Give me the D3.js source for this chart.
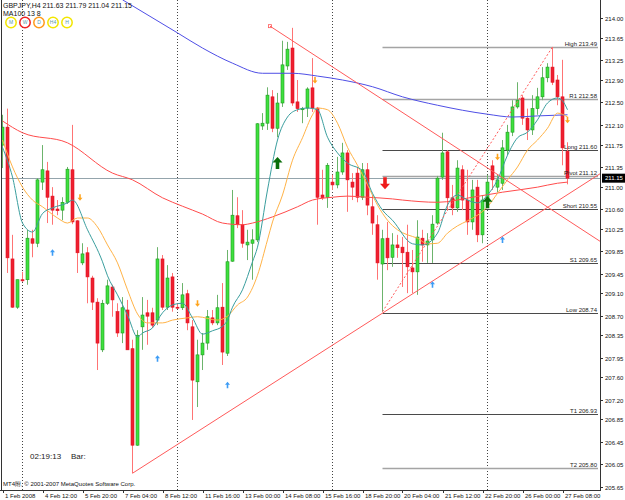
<!DOCTYPE html>
<html>
<head>
<meta charset="utf-8">
<script src="https://cdn.jsdelivr.net/npm/d3@7"></script>
<style>
  body { margin: 0; background: #fff; }
  svg { display: block; }
  text { font-family: "Liberation Sans", Arial, sans-serif; }
</style>
</head>
<body>
<div id="chart"></div>
<script>
// GBPJPY H4 candles, bar 0 = 1 Feb 2008, 5px per bar
var opens = [211.74, 212.06, 209.71, 208.85, 209.34, 209.34, 210.07, 209.99, 211.08, 211.28,
  210.83, 210.60, 210.58, 210.72, 211.30, 210.39, 209.64, 209.82, 209.37, 208.94,
  208.09, 208.92, 209.21, 208.77, 208.39, 208.80, 208.11, 206.39, 208.50, 208.75,
  208.75, 208.62, 209.71, 208.85, 209.39, 208.85, 208.84, 209.09, 208.50, 207.52,
  208.00, 208.21, 208.66, 208.57, 208.85, 208.03, 209.67, 210.48, 210.32, 209.96,
  209.99, 210.05, 212.08, 212.13, 212.60, 212.04, 212.49, 213.15, 213.47, 212.51,
  212.37, 212.40, 212.76, 212.40, 210.85, 210.81, 211.08, 211.03, 211.26, 211.60,
  211.08, 211.24, 210.81, 211.30, 210.64, 210.32, 209.62, 210.08, 209.74, 209.96,
  209.92, 209.83, 209.55, 209.48, 210.08, 209.96, 210.05, 210.35, 211.17, 211.62,
  210.80, 210.62, 211.30, 210.76, 210.37, 210.99, 210.14, 210.76, 211.37, 210.99,
  211.06, 211.65, 211.97, 212.42, 212.58, 212.22, 212.01, 212.39, 212.60, 212.94,
  213.13, 212.90, 212.60, 211.63]
var highs = [212.28, 212.39, 210.14, 209.34, 209.48, 210.23, 210.23, 211.15, 211.74, 211.44,
  210.99, 210.76, 210.81, 211.35, 212.10, 210.40, 209.99, 209.92, 209.41, 209.01,
  208.98, 209.34, 209.25, 208.92, 209.03, 208.98, 208.27, 208.44, 209.03, 208.98,
  208.84, 209.92, 209.78, 209.60, 209.46, 208.92, 209.28, 209.16, 208.62, 208.27,
  208.39, 208.80, 208.80, 209.07, 209.28, 209.87, 210.94, 210.81, 210.58, 210.23,
  210.24, 212.13, 212.31, 212.77, 212.72, 212.67, 213.60, 213.58, 213.83, 212.90,
  212.42, 212.77, 213.29, 212.42, 211.30, 211.42, 211.21, 211.53, 211.78, 211.65,
  211.24, 211.35, 211.42, 211.42, 210.85, 210.49, 210.23, 210.37, 210.17, 210.14,
  210.10, 210.32, 209.87, 210.40, 210.23, 210.17, 210.49, 211.19, 211.96, 211.65,
  211.03, 211.47, 211.38, 211.30, 211.12, 211.12, 210.85, 211.21, 211.47, 211.21,
  211.83, 212.10, 212.54, 212.86, 212.63, 212.39, 212.63, 212.76, 213.13, 213.20,
  213.49, 212.99, 213.26, 211.79]
var lows = [211.33, 209.46, 208.84, 208.82, 209.30, 209.25, 209.74, 209.92, 210.94, 210.35,
  210.32, 210.49, 210.40, 210.69, 210.33, 209.46, 209.60, 208.92, 208.80, 207.73,
  208.05, 208.89, 208.68, 208.32, 208.21, 208.09, 205.89, 206.38, 208.09, 208.18,
  208.48, 208.53, 208.80, 208.80, 208.77, 208.82, 208.80, 208.44, 206.84, 207.07,
  207.73, 208.09, 208.53, 208.53, 207.82, 207.98, 209.66, 210.26, 209.91, 209.69,
  209.34, 210.01, 212.01, 212.01, 211.97, 211.88, 212.42, 213.08, 212.44, 212.33,
  212.13, 212.24, 212.33, 210.32, 210.76, 210.62, 210.94, 210.97, 211.21, 210.55,
  210.76, 210.72, 210.76, 210.49, 210.14, 209.34, 208.77, 209.51, 209.57, 209.73,
  209.21, 209.10, 209.10, 209.07, 209.66, 209.64, 209.64, 210.32, 211.12, 210.58,
  210.49, 210.55, 210.58, 210.14, 210.23, 210.01, 209.99, 210.67, 210.94, 210.90,
  210.94, 211.56, 211.90, 212.39, 212.10, 211.83, 211.92, 212.28, 212.54, 212.86,
  212.81, 212.45, 211.38, 211.04]
var closes = [212.06, 209.73, 208.85, 209.34, 209.32, 210.08, 209.99, 211.12, 211.30, 210.81,
  210.58, 210.57, 210.72, 211.31, 210.37, 209.82, 209.80, 209.39, 208.94, 208.21,
  208.92, 209.23, 208.98, 208.39, 208.84, 208.09, 206.39, 208.35, 208.71, 208.69,
  208.53, 209.71, 208.85, 209.37, 208.85, 208.84, 209.07, 208.57, 207.55, 208.00,
  208.21, 208.68, 208.57, 208.84, 208.05, 209.66, 210.49, 210.32, 209.99, 210.01,
  210.05, 212.12, 212.13, 212.63, 212.04, 212.49, 213.17, 213.45, 212.49, 212.39,
  212.39, 212.74, 212.40, 210.81, 210.80, 211.38, 211.03, 211.26, 211.60, 211.12,
  210.99, 210.81, 211.30, 210.67, 210.35, 209.64, 210.07, 209.73, 209.96, 209.91,
  209.82, 209.57, 209.48, 210.10, 209.96, 210.03, 210.33, 211.15, 211.60, 210.80,
  210.62, 211.33, 210.76, 210.37, 210.94, 210.14, 210.76, 211.08, 211.12, 211.12,
  211.69, 211.97, 212.42, 212.54, 212.22, 212.01, 212.39, 212.60, 212.94, 213.13,
  212.86, 212.60, 211.69, 211.15]

// moving averages: [bar, price]
var maBlue = [[24, 214.33], [35, 213.74], [40, 213.47], [46, 213.20], [52, 213.02], [58, 213.02],
  [63, 212.97], [68, 212.90], [74, 212.78], [80, 212.60], [87, 212.45], [97, 212.29],
  [102, 212.24], [107, 212.26], [113, 212.28]]
var maRed = [[0, 212.17], [4, 211.96], [13, 211.78], [22, 211.24], [26, 211.12], [32, 210.80],
  [36, 210.65], [40, 210.51], [44, 210.35], [48, 210.32], [50, 210.35], [54, 210.46],
  [59, 210.64], [62, 210.76], [66, 210.81], [69, 210.83], [73, 210.81], [78, 210.78],
  [80, 210.76], [87, 210.72], [94, 210.81], [100, 210.90], [107, 210.99], [111, 211.06], [113, 211.08]]
var maTeal = [[0, 211.70], [2, 211.17], [4, 210.35], [6, 210.19], [8, 210.52], [10, 210.62],
  [13, 210.71], [14, 210.76], [17, 210.23], [20, 209.66], [21, 209.41], [23, 209.07],
  [25, 208.71], [27, 208.32], [28, 208.39], [30, 208.48], [32, 208.75], [34, 208.89],
  [36, 208.92], [38, 208.66], [40, 208.37], [42, 208.43], [44, 208.51], [45, 208.62],
  [46, 208.85], [48, 209.16], [50, 209.66], [51, 209.92], [53, 210.94], [55, 211.83],
  [57, 212.24], [59, 212.37], [61, 212.40], [63, 212.37], [65, 211.88], [67, 211.60],
  [69, 211.42], [72, 211.28], [74, 210.88], [76, 210.58], [78, 210.40], [82, 209.98],
  [84, 209.96], [87, 210.17], [89, 210.67], [91, 210.85], [93, 210.76], [95, 210.71],
  [97, 210.85], [99, 211.12], [101, 211.56], [103, 211.87], [105, 211.97], [107, 212.19],
  [109, 212.49], [111, 212.58], [112, 212.53], [113, 212.37]]
var maOrange = [[0, 211.83], [2, 211.35], [4, 210.99], [6, 210.76], [8, 210.64], [11, 210.44],
  [13, 210.35], [15, 210.44], [17, 210.44], [19, 210.28], [21, 209.96], [23, 209.64],
  [25, 209.16], [27, 208.73], [29, 208.57], [32, 208.57], [34, 208.62], [37, 208.66],
  [39, 208.68], [43, 208.62], [45, 208.69], [47, 208.89], [49, 209.03], [51, 209.42],
  [53, 210.05], [54, 210.37], [56, 210.85], [58, 211.47], [60, 211.87], [62, 212.28],
  [63, 212.40], [65, 212.37], [67, 212.13], [69, 211.70], [71, 211.38], [73, 211.03],
  [75, 210.67], [77, 210.40], [79, 210.23], [81, 210.14], [83, 210.08], [85, 209.98],
  [87, 209.99], [89, 210.17], [91, 210.30], [93, 210.39], [95, 210.49], [97, 210.64],
  [99, 210.88], [101, 211.12], [103, 211.35], [105, 211.65], [107, 211.83], [109, 212.04],
  [111, 212.31], [113, 212.24]]

// signal arrows [bar, price]
var arrowsOrangeDown = [[15.5, 210.81], [39, 208.92], [62.5, 212.90], [99, 211.53], [113, 212.19]]
var arrowsBlueUp = [[10, 209.82], [31, 207.93], [45, 207.46], [86, 209.25], [100, 210.05]]
var arrowsBigUp = [[55, 211.42], [97, 210.72]]
var arrowsBigDown = [[76.5, 211.06]]

// drawn objects
var trendUp = [[26, 205.89], [105, 210.40]]
var trendDown = [[53.5, 213.86], [111.5, 210.49]]
var trendDotted = [[76, 208.77], [110, 213.49]]

var levelNames = ["High", "R1", "Long", "Pivot", "Short", "S1", "Low", "T1", "T2"]
var levelTexts = ["213.49", "212.58", "211.60", "211.12", "210.55", "209.65", "208.74", "206.93", "205.80"]
var levelPrices = [213.48, 212.56, 211.66, 211.19, 210.60, 209.64, 208.75, 206.95, 205.99]
var levelStartBar = 76

var priceTicks = [214.00, 213.65, 213.25, 212.90, 212.50, 212.10, 211.75, 211.35, 211.00, 210.60,
  210.25, 209.85, 209.45, 209.10, 208.70, 208.35, 207.95, 207.60, 207.20, 206.85, 206.45, 206.05, 205.65]
var timeTickBars = [0, 8, 16, 24, 32, 40, 48, 56, 64, 72, 80, 88, 96, 104, 112]
var timeTickLabels = ["1 Feb 2008", "4 Feb 12:00", "5 Feb 20:00", "7 Feb 04:00", "8 Feb 12:00",
  "11 Feb 16:00", "13 Feb 00:00", "14 Feb 08:00", "15 Feb 16:00", "18 Feb 20:00", "20 Feb 04:00",
  "21 Feb 12:00", "22 Feb 20:00", "26 Feb 00:00", "27 Feb 08:00"]
var weekSeparators = [4, 35, 66, 97]
var lastPrice = 211.15

var legendLabels = ["M", "W", "D", "H4", "H"]
var legendColors = ["#f2e600", "#ee2222", "#ff9a1a", "#f2e600", "#f2e600"]

var W = 625, H = 500, plotRight = 600, plotBottom = 490

var x = d3.scaleLinear().domain([-0.5, 119.5]).range([0, plotRight])
var y = d3.scaleLinear().domain([205.65, 214.00]).range([486.7, 18.3])

var svg = d3.select("#chart").append("svg")
    .attr("width", W)
    .attr("height", H)

svg.append("rect").attr("width", W).attr("height", H).attr("fill", "#fff")

svg.append("defs").append("clipPath").attr("id", "plotclip")
    .append("rect").attr("x", 1).attr("y", 0).attr("width", plotRight - 1).attr("height", plotBottom)

var plot = svg.append("g").attr("clip-path", "url(#plotclip)")

// week separators
plot.selectAll(".sep").data(weekSeparators).enter().append("line")
    .attr("x1", d => x(d)).attr("x2", d => x(d))
    .attr("y1", 0).attr("y2", plotBottom)
    .attr("stroke", "#444").attr("stroke-width", 1).attr("stroke-dasharray", "1,2")

// current price line
plot.append("line")
    .attr("x1", 0).attr("x2", plotRight)
    .attr("y1", Math.round(y(lastPrice)) + 0.5).attr("y2", Math.round(y(lastPrice)) + 0.5)
    .attr("stroke", "#94a4ac").attr("stroke-width", 1)

// pivot levels
var levelDark = { Long: 1, Short: 1, S1: 1, Low: 1, T1: 1 }
levelNames.forEach(function (name, k) {
    var ly = Math.round(y(levelPrices[k])) + 0.5
    plot.append("line")
        .attr("x1", x(levelStartBar)).attr("x2", plotRight - 2)
        .attr("y1", ly).attr("y2", ly)
        .attr("stroke", levelDark[name] ? "#4a4a4a" : "#a4a4a4")
        .attr("stroke-width", levelDark[name] ? 1 : 1.6)
})

// candles
var bars = d3.range(opens.length)
var candle = plot.selectAll(".candle").data(bars).enter().append("g")

candle.append("line")
    .attr("x1", d => x(d)).attr("x2", d => x(d))
    .attr("y1", d => y(highs[d])).attr("y2", d => y(lows[d]))
    .attr("stroke", d => closes[d] >= opens[d] ? "#6cb46c" : "#ff7474")
    .attr("stroke-width", 1)

candle.append("rect")
    .attr("x", d => x(d) - 1.5)
    .attr("width", 3)
    .attr("y", d => y(Math.max(opens[d], closes[d])))
    .attr("height", d => Math.max(1, Math.abs(y(opens[d]) - y(closes[d]))))
    .attr("fill", d => closes[d] >= opens[d] ? "#3ee03e" : "#ee2030")
    .attr("stroke", d => closes[d] >= opens[d] ? "#1e9a1e" : "#e01020")
    .attr("stroke-width", 0.6)

// moving averages
var maLine = d3.line().x(d => x(d[0])).y(d => y(d[1])).curve(d3.curveMonotoneX)
var maSeries = [[maRed, "#ff4c4c"], [maBlue, "#4f4fe6"], [maOrange, "#ffb347"], [maTeal, "#3a9e9e"]]
maSeries.forEach(function (s) {
    plot.append("path").attr("d", maLine(s[0]))
        .attr("fill", "none").attr("stroke", s[1]).attr("stroke-width", 1)
})

// trend lines (rays run on to the right edge)
function ray(pts) {
    var x1 = x(pts[0][0]), y1 = y(pts[0][1]), x2 = x(pts[1][0]), y2 = y(pts[1][1])
    var k = (y2 - y1) / (x2 - x1)
    return [x1, y1, plotRight + 30, y1 + k * (plotRight + 30 - x1)]
}
;[trendUp, trendDown].forEach(function (t) {
    var r = ray(t)
    plot.append("line").attr("x1", r[0]).attr("y1", r[1]).attr("x2", r[2]).attr("y2", r[3])
        .attr("stroke", "#ff5a5a").attr("stroke-width", 1)
})
plot.append("rect")
    .attr("x", x(trendDown[0][0]) - 1.5).attr("y", y(trendDown[0][1]) - 1.5)
    .attr("width", 3).attr("height", 3)
    .attr("fill", "none").attr("stroke", "#ff5a5a").attr("stroke-width", 0.8)
plot.append("line")
    .attr("x1", x(trendDotted[0][0])).attr("y1", y(trendDotted[0][1]))
    .attr("x2", x(trendDotted[1][0])).attr("y2", y(trendDotted[1][1]))
    .attr("stroke", "#ff5a5a").attr("stroke-width", 1).attr("stroke-dasharray", "2,2")

// arrows
var smallUp = "M0,-3.5 L2.5,-0.5 L0.8,-0.5 L0.8,3 L-0.8,3 L-0.8,-0.5 L-2.5,-0.5 Z"
var smallDown = "M0,3.5 L2.5,0.5 L0.8,0.5 L0.8,-3 L-0.8,-3 L-0.8,0.5 L-2.5,0.5 Z"
var bigUp = "M0,-6 L5,-0.5 L1.8,-0.5 L1.8,6 L-1.8,6 L-1.8,-0.5 L-5,-0.5 Z"
var bigDown = "M0,6 L5,0.5 L1.8,0.5 L1.8,-6 L-1.8,-6 L-1.8,0.5 L-5,0.5 Z"
function drawArrows(list, shape, color) {
    plot.selectAll(null).data(list).enter().append("path")
        .attr("d", shape)
        .attr("transform", d => "translate(" + x(d[0]) + "," + y(d[1]) + ")")
        .attr("fill", color)
}
drawArrows(arrowsOrangeDown, smallDown, "#ffa41c")
drawArrows(arrowsBlueUp, smallUp, "#3d9cf5")
drawArrows(arrowsBigUp, bigUp, "#0a6e0a")
drawArrows(arrowsBigDown, bigDown, "#ee1c1c")

// level labels
levelNames.forEach(function (name, k) {
    svg.append("text")
        .attr("x", plotRight - 3).attr("y", Math.round(y(levelPrices[k])) - 1.5)
        .attr("text-anchor", "end")
        .attr("font-size", "6px").attr("fill", "#222")
        .text(name + "  " + levelTexts[k])
})

// frame
svg.append("line").attr("x1", 1.5).attr("x2", 1.5).attr("y1", 0).attr("y2", plotBottom)
    .attr("stroke", "#333")
svg.append("line").attr("x1", plotRight + 0.5).attr("x2", plotRight + 0.5).attr("y1", 0).attr("y2", plotBottom + 1)
    .attr("stroke", "#333")
svg.append("line").attr("x1", 0).attr("x2", plotRight + 1).attr("y1", plotBottom + 0.5).attr("y2", plotBottom + 0.5)
    .attr("stroke", "#333")

// price axis
var yAxis = svg.append("g")
priceTicks.forEach(function (p) {
    var ty = Math.round(y(p)) + 0.5
    yAxis.append("line").attr("x1", plotRight).attr("x2", plotRight + 3).attr("y1", ty).attr("y2", ty)
        .attr("stroke", "#333")
    yAxis.append("text").attr("x", plotRight + 5).attr("y", ty + 2)
        .attr("font-size", "6px").attr("fill", "#111").text(p.toFixed(2))
})

// last price box
var lpY = y(lastPrice)
svg.append("rect").attr("x", plotRight + 2).attr("y", lpY - 4.5).attr("width", 23).attr("height", 9)
    .attr("fill", "#000")
svg.append("text").attr("x", plotRight + 5).attr("y", lpY + 2.2)
    .attr("font-size", "6px").attr("fill", "#fff").text(lastPrice.toFixed(2))

// time axis
var xAxis = svg.append("g")
timeTickBars.forEach(function (b, k) {
    var tx = Math.round(x(b)) + 0.5
    xAxis.append("line").attr("x1", tx).attr("x2", tx).attr("y1", plotBottom).attr("y2", plotBottom + 3)
        .attr("stroke", "#333")
    xAxis.append("text").attr("x", tx + 1.5).attr("y", plotBottom + 8)
        .attr("font-size", "6px").attr("fill", "#111").text(timeTickLabels[k])
})

// header
svg.append("text").attr("x", 3).attr("y", 8).attr("font-size", "7px").attr("fill", "#111")
    .text("GBPJPY,H4  211.63 211.79 211.04 211.15")
svg.append("text").attr("x", 3).attr("y", 15.5).attr("font-size", "7px").attr("fill", "#111")
    .text("MA100 13 8")

var legend = svg.selectAll(".lg").data(legendLabels).enter().append("g")
    .attr("transform", (d, k) => "translate(" + (11 + k * 14) + ",22.5)")
legend.append("circle").attr("r", 5.2).attr("fill", "#fff")
    .attr("stroke", (d, k) => legendColors[k]).attr("stroke-width", 1.5)
legend.append("text").attr("text-anchor", "middle").attr("y", 1.8)
    .attr("font-size", "5px").attr("fill", "#5a9aa8").text(d => d)

// footer texts
svg.append("text").attr("x", 30).attr("y", 459).attr("font-size", "8px").attr("fill", "#222")
    .text("02:19:13")
svg.append("text").attr("x", 71).attr("y", 459).attr("font-size", "8px").attr("fill", "#222")
    .text("Bar:")
svg.append("text").attr("x", 3).attr("y", 486).attr("font-size", "6px").attr("fill", "#111")
    .text("MT4附, © 2001-2007 MetaQuotes Software Corp.")
</script>
</body>
</html>
